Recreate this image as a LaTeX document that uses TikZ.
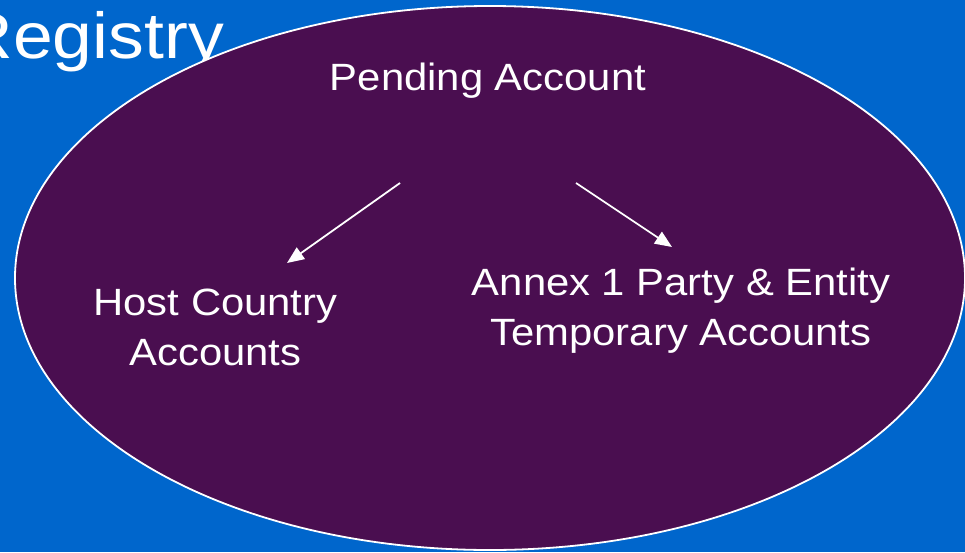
\documentclass[tikz,border=0pt]{standalone}
\usepackage{fontspec}
\setmainfont{Liberation Sans}
\newfontfamily\slidefont[FakeStretch=1.1]{Liberation Sans}
\usetikzlibrary{arrows.meta}
\definecolor{slideblue}{HTML}{0066CC}
\definecolor{registrypurple}{HTML}{4A0E50}
\begin{document}
\begin{tikzpicture}[x=1pt,y=-1pt,
  label/.style={text=white, inner sep=0pt, align=center,
    font=\slidefont\fontsize{38}{50}\selectfont},
  flow/.style={draw=white, line width=1.8pt,
    -{Triangle[length=17pt,width=14pt]}}]
  % slide background
  \fill[slideblue] (0,0) rectangle (965,552);
  \useasboundingbox (0,0) rectangle (965,552);
  % title
  \node[text=white, inner sep=0pt, anchor=base east,
    font=\slidefont\fontsize{65}{78}\selectfont] (title) at (224,58) {Registry};
  % registry ellipse
  \draw[white, line width=1.8pt, fill=registrypurple]
    (490,278) ellipse [x radius=475, y radius=272];
  % account labels (base = baseline of the last line)
  \node[label, anchor=base] (pending) at (488,90) {Pending Account};
  \node[label, anchor=base] (host) at (215.5,365) {Host Country\\Accounts};
  \node[label, anchor=base] (annex) at (681,345) {Annex 1 Party \& Entity\\Temporary Accounts};
  % connectors
  \coordinate (hostsrc) at (400,183);
  \coordinate (hosttip) at (287,263);
  \coordinate (annexsrc) at (576,183);
  \coordinate (annextip) at (672,247);
  \draw[flow] (hostsrc) -- (hosttip);
  \draw[flow] (annexsrc) -- (annextip);
\end{tikzpicture}
\end{document}
